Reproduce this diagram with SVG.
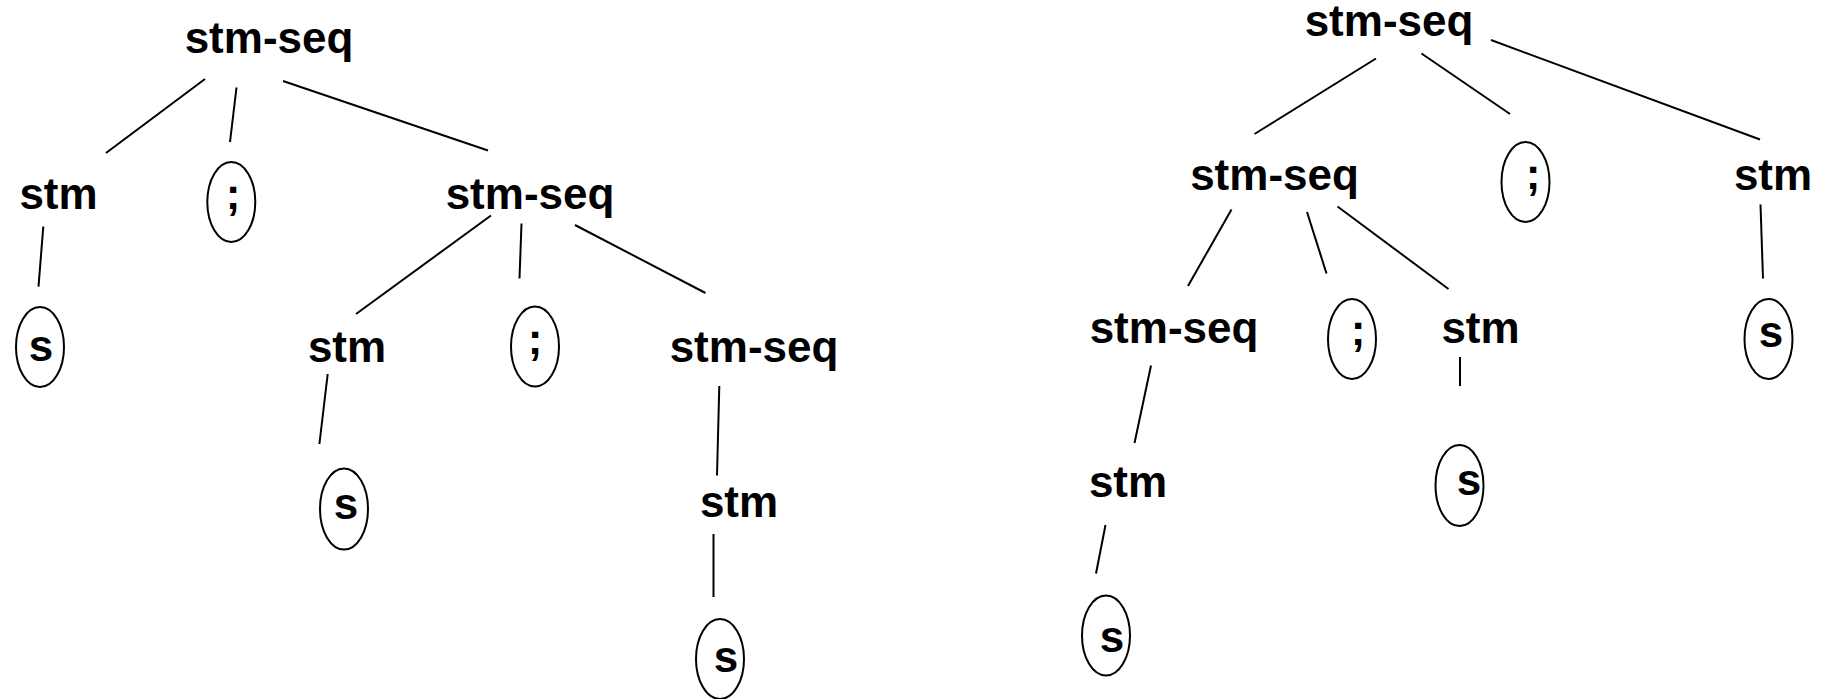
<svg xmlns="http://www.w3.org/2000/svg" width="1828" height="699" viewBox="0 0 1828 699">
<style>
text{font-family:"Liberation Sans",Arial,sans-serif;font-weight:bold;font-size:44px;fill:#000;text-anchor:middle}
.lf{font-size:44px}
ellipse{fill:none;stroke:#000;stroke-width:2}
#connectors line{stroke:#000;stroke-width:2}
</style>
<rect width="1828" height="699" fill="#fff"/>
<g id="connectors">
<line x1="205" y1="79" x2="106" y2="153"/>
<line x1="236.5" y1="87.5" x2="230" y2="142"/>
<line x1="283" y1="81" x2="488" y2="150.5"/>
<line x1="43.3" y1="226.5" x2="38.5" y2="286.7"/>
<line x1="491" y1="215.5" x2="356" y2="314"/>
<line x1="521.5" y1="223.5" x2="519.5" y2="278.5"/>
<line x1="575" y1="225" x2="705.5" y2="293"/>
<line x1="327.7" y1="374" x2="319.4" y2="444"/>
<line x1="719.3" y1="386" x2="717" y2="475.5"/>
<line x1="713.5" y1="534" x2="713.5" y2="597"/>
<line x1="1376" y1="58.5" x2="1254.5" y2="134"/>
<line x1="1421.5" y1="53.5" x2="1510" y2="114"/>
<line x1="1491" y1="40" x2="1760" y2="139.5"/>
<line x1="1231.5" y1="209.5" x2="1188" y2="286"/>
<line x1="1307" y1="212" x2="1326.5" y2="273.5"/>
<line x1="1337.5" y1="206.5" x2="1448.5" y2="289"/>
<line x1="1760.5" y1="204.5" x2="1763" y2="278.5"/>
<line x1="1460" y1="357" x2="1460" y2="386"/>
<line x1="1151" y1="365.5" x2="1134.5" y2="443"/>
<line x1="1105.5" y1="525" x2="1096" y2="573.5"/>
</g>
<g id="L-root"><text x="269" y="53">stm-seq</text></g>
<g id="L-stm1"><text x="58.5" y="209">stm</text></g>
<g id="L-semi1"><ellipse cx="231.3" cy="202" rx="24" ry="40"/><text x="233" y="209">;</text></g>
<g id="L-seq2"><text x="530" y="209">stm-seq</text></g>
<g id="L-s1"><ellipse cx="40" cy="347" rx="24" ry="40"/><text x="41" y="361">s</text></g>
<g id="L-stm2"><text x="347" y="362">stm</text></g>
<g id="L-semi2"><ellipse cx="535" cy="346.5" rx="24" ry="40"/><text x="535" y="354">;</text></g>
<g id="L-seq3"><text x="754" y="362">stm-seq</text></g>
<g id="L-s2"><ellipse cx="344" cy="509" rx="24" ry="40.5"/><text x="346" y="519">s</text></g>
<g id="L-stm3"><text x="739" y="517">stm</text></g>
<g id="L-s3"><ellipse cx="720" cy="659" rx="24" ry="40"/><text x="726" y="672">s</text></g>
<g id="R-root"><text x="1389" y="36">stm-seq</text></g>
<g id="R-seq2"><text x="1274.5" y="190">stm-seq</text></g>
<g id="R-semi1"><ellipse cx="1525.5" cy="182" rx="24" ry="40"/><text x="1533" y="189">;</text></g>
<g id="R-stm1"><text x="1773" y="190">stm</text></g>
<g id="R-s1"><ellipse cx="1768.5" cy="339" rx="24" ry="40"/><text x="1771" y="347">s</text></g>
<g id="R-seq3"><text x="1174" y="343">stm-seq</text></g>
<g id="R-semi2"><ellipse cx="1352" cy="339" rx="24" ry="40"/><text x="1358" y="345">;</text></g>
<g id="R-stm2"><text x="1480.5" y="343">stm</text></g>
<g id="R-s2"><ellipse cx="1459.5" cy="485.5" rx="24" ry="40.5"/><text x="1469" y="495">s</text></g>
<g id="R-stm3"><text x="1128" y="497">stm</text></g>
<g id="R-s3"><ellipse cx="1106" cy="635.5" rx="24" ry="40"/><text x="1112" y="652">s</text></g>
</svg>
